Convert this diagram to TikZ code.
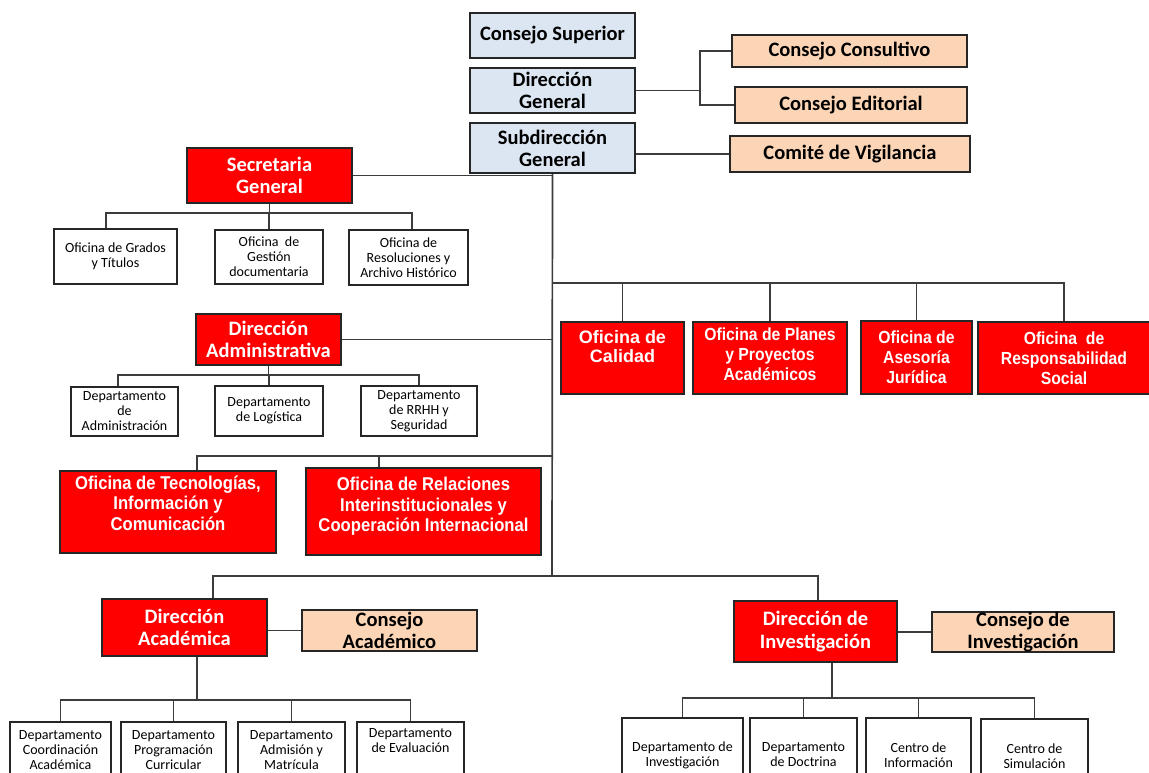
\documentclass[tikz,border=0pt]{standalone}
\usepackage{fontspec}
\setmainfont{Carlito}
\newfontfamily\narrowfont[FakeStretch=0.9]{Liberation Sans}
\newfontfamily\arialfont{Liberation Sans}
\definecolor{azul}{HTML}{DCE6F2}
\definecolor{durazno}{HTML}{FBD5B5}
\definecolor{rojo}{HTML}{FF0000}
\definecolor{borde}{HTML}{262626}
\definecolor{linea}{HTML}{3C3C3C}
\begin{document}
\begin{tikzpicture}[x=1pt, y=-1pt,
    every node/.style={rectangle, draw=borde, line width=1.7pt, inner sep=0pt, align=center},
    mando/.style={fill=azul, font=\bfseries\fontsize{20.5}{22}\selectfont},
    consejo/.style={fill=durazno, font=\bfseries\fontsize{20.5}{22.5}\selectfont},
    direccion/.style={fill=rojo, text=white, font=\bfseries\fontsize{20.5}{22.5}\selectfont},
    oficina/.style={fill=rojo, text=white, font=\narrowfont\bfseries\fontsize{18.5}{20.5}\selectfont},
    oficinab/.style={fill=rojo, text=white, font=\narrowfont\bfseries\fontsize{17.5}{20}\selectfont},
    unidad/.style={fill=white, font=\fontsize{14}{15}\selectfont},
    rama/.style={draw=linea, line width=1.7pt}]
      \useasboundingbox (0,0) rectangle (1149,773);
      \clip (0,0) rectangle (1149,773);
      % cabeza
      \node (cs) at (552.5,35.5) [mando, minimum width=165, minimum height=45] {Consejo Superior};
      \node (dg) at (552.5,90.5) [mando, minimum width=165, minimum height=45] {Dirección\\General};
      \node (sd) at (552.5,148) [mando, minimum width=165, minimum height=50] {Subdirección\\General};
      \node (cc) at (849.5,51) [consejo, minimum width=235, minimum height=32] {Consejo Consultivo};
      \node (ce) at (851,105) [consejo, minimum width=232, minimum height=36] {Consejo Editorial};
      \node (cv) at (850,154) [consejo, minimum width=240, minimum height=36] {Comité de Vigilancia};
      % secretaria
      \node (sg) at (269.5,175.5) [direccion, minimum width=165, minimum height=55] {Secretaria\\General};
      \node (ogt) at (115.5,256.5) [unidad, minimum width=123, minimum height=55] {Oficina de Grados\\y Títulos};
      \node (ogd) at (269,257) [unidad, minimum width=108, minimum height=54] {Oficina~ de\\Gestión\\documentaria};
      \node (ore) at (408.5,257.5) [unidad, minimum width=119, minimum height=55] {Oficina de\\Resoluciones y\\Archivo Histórico};
      % administrativa
      \node (da) at (268.5,339.5) [direccion, minimum width=145, minimum height=51] {Dirección\\Administrativa};
      \node (dad) at (124.5,411.5) [unidad, minimum width=107, minimum height=49] {Departamento\\de\\Administración};
      \node (dlo) at (269,411) [unidad, minimum width=108, minimum height=50] {Departamento\\de Logística};
      \node (drh) at (419,411) [unidad, minimum width=116, minimum height=50] {Departamento\\de RRHH y\\Seguridad};
      \node (otic) at (168,512) [oficina, minimum width=216, minimum height=82] {Oficina de Tecnologías,\\Información y\\Comunicación\\[-2pt]};
      \node (orel) at (423.5,511.5) [oficina, minimum width=235, minimum height=87] {Oficina de Relaciones\\Interinstitucionales y\\Cooperación Internacional\\[-7pt]};
      % oficinas
      \node (ocal) at (622.5,358) [oficina, font=\arialfont\bfseries\fontsize{18}{18.5}\selectfont, minimum width=123, minimum height=72] {Oficina de\\Calidad\\[4.5pt]};
      \node (opl) at (770,358) [oficinab, minimum width=154, minimum height=72] {Oficina de Planes\\y Proyectos\\Académicos\\[-12pt]};
      \node (oaj) at (916.5,357.5) [oficinab, minimum width=111, minimum height=73] {Oficina de\\Asesoría\\Jurídica};
      \node (ors) at (1064,358) [oficinab, minimum width=172, minimum height=72] {Oficina~ de\\Responsabilidad\\Social};
      % academica
      \node (dac) at (184.5,627.5) [direccion, minimum width=165, minimum height=57] {Dirección\\Académica};
      \node (cac) at (389.5,630.5) [consejo, minimum width=175, minimum height=41] {Consejo\\Académico};
      \node (dpc) at (60.5,750) [unidad, minimum width=101, minimum height=56] {Departamento\\Coordinación\\Académica};
      \node (dpp) at (173.5,750) [unidad, minimum width=105, minimum height=56] {Departamento\\Programación\\Curricular};
      \node (dpa) at (291.5,750) [unidad, minimum width=107, minimum height=56] {Departamento\\Admisión y\\Matrícula};
      \node (dpe) at (410.5,750) [unidad, minimum width=107, minimum height=56] {Departamento\\de Evaluación\\[3pt]};
      % investigacion
      \node (di) at (815.5,631.5) [direccion, minimum width=163, minimum height=61] {Dirección de\\Investigación};
      \node (ci) at (1023,632) [consejo, minimum width=182, minimum height=40] {Consejo de\\Investigación};
      \node (dpi) at (682.5,755) [unidad, minimum width=121, minimum height=74] {Departamento de\\Investigación};
      \node (dpd) at (803.5,755) [unidad, minimum width=107, minimum height=74] {Departamento\\de Doctrina};
      \node (cin) at (918.5,755) [unidad, minimum width=105, minimum height=74] {Centro de\\Información};
      \node (csi) at (1034.5,756) [unidad, minimum width=107, minimum height=74] {Centro de\\Simulación};
      % uniones
      \coordinate (dgfork) at (700,90.5);
      \coordinate (spine) at (552,576);
      \coordinate (ofbar) at (552,283);
      \coordinate (tecbar) at (552,456);
      \coordinate (sgbar) at (269.5,213);
      \coordinate (dabar) at (268.5,375);
      \coordinate (dacbar) at (197,700);
      \coordinate (dibar) at (832,698);
      \draw[rama] (dg.east) -- (dgfork);
      \foreach \dest in {cc, ce}
        \draw[rama] (dgfork) |- (\dest.west);
      \draw[rama] (sd.east |- cv.west) -- (cv.west);
      \draw[rama] (sd.south) -- (spine);
      \draw[rama] (sg.east) -- (sg.east -| spine);
      \draw[rama] (da.east) -- (da.east -| spine);
      \draw[rama] (sg.south) -- (sgbar);
      \draw[rama] (da.south) -- (dabar);
      \foreach \dest/\dx in {ogt/-9.5, ogd/0, ore/3.5}
        \draw[rama] (sgbar) -| ([xshift=\dx]\dest.north);
      \foreach \dest/\dx in {dad/-6.5, dlo/0, drh/0}
        \draw[rama] (dabar) -| ([xshift=\dx]\dest.north);
      \foreach \dest in {ocal, opl, oaj, ors}
        \draw[rama] (ofbar) -| (\dest.north);
      \foreach \dest/\dx in {otic/29, orel/-44.5}
        \draw[rama] (tecbar) -| ([xshift=\dx]\dest.north);
      \draw[rama] (spine) -| ([xshift=28.5]dac.north);
      \draw[rama] (spine) -| ([xshift=2.5]di.north);
      \draw[rama] (dac.east |- cac.west) -- (cac.west);
      \draw[rama] (di.east |- ci.west) -- (ci.west);
      \draw[rama] ([xshift=12.5]dac.south) -- (dacbar);
      \draw[rama] ([xshift=16.5]di.south) -- (dibar);
      \foreach \dest in {dpc, dpp, dpa, dpe}
        \draw[rama] (dacbar) -| (\dest.north);
      \foreach \dest in {dpi, dpd, cin, csi}
        \draw[rama] (dibar) -| (\dest.north);
\end{tikzpicture}
\end{document}
